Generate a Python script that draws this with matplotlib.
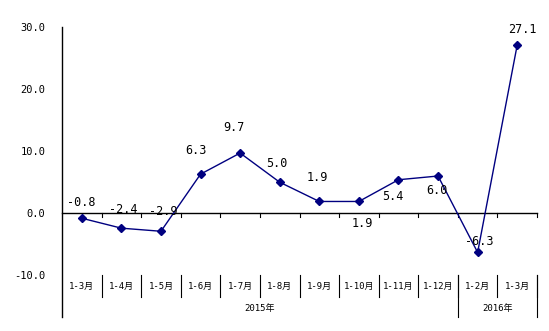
import matplotlib
matplotlib.use('Agg')
import matplotlib.pyplot as plt

plt.rcParams['font.family'] = ['DejaVu Sans Mono', 'Noto Sans CJK SC']

months = ['1-3月', '1-4月', '1-5月', '1-6月', '1-7月', '1-8月', '1-9月',
          '1-10月', '1-11月', '1-12月', '1-2月', '1-3月']
values = [-0.8, -2.4, -2.9, 6.3, 9.7, 5.0, 1.9, 1.9, 5.4, 6.0, -6.3, 27.1]
years = ['2015年', '2016年']
year_counts = [10, 2]
yticks = [-10, 0, 10, 20, 30]

# label offsets in pixels (dx, dy) for each point
offsets = [(-1, 16), (2, 19), (2, 20), (-5, 24), (-6, 26), (-3, 19),
           (-2, 24), (3, -22), (-6, -17), (-1, -14), (2, 11), (5, 16)]

W, H = 549, 331
fig = plt.figure(figsize=(W / 100, H / 100), dpi=100)
left, right, top, bottom = 62, 537, 27, 317
ax = fig.add_axes([left / W, (H - bottom) / H, (right - left) / W, (bottom - top) / H])

px = 62.25 / 10  # pixels per unit
ymin = -(bottom - 213) / px
ax.set_ylim(ymin, 30)
ax.set_xlim(0, len(months))

for s in ['top', 'right', 'bottom']:
    ax.spines[s].set_visible(False)
ax.spines['left'].set_linewidth(1)
ax.set_xticks([])
ax.set_yticks(yticks)
ax.set_yticklabels(['%.1f' % v for v in yticks], fontsize=7.5)
ax.tick_params(axis='y', length=0, pad=12)

n = len(months)
xs = [i + 0.5 for i in range(n)]

# zero line with ticks
ax.plot([0, n], [0, 0], color='black', lw=1, clip_on=False)
for i in range(1, n + 1):
    ax.plot([i, i], [0, -4 / px], color='black', lw=0.8, clip_on=False)

ax.plot(xs, values, color='#000080', lw=1, marker='D', markersize=4,
        markerfacecolor='#000080', clip_on=False, zorder=3)

for x, v, (dx, dy) in zip(xs, values, offsets):
    ax.annotate('%.1f' % v, (x, v), xytext=(dx * 0.72, dy * 0.72),
                textcoords='offset points', ha='center', va='center', fontsize=8.5)

# category table
row_top = -(275 - 213) / px
row_mid = -(297 - 213) / px
for i in range(1, n + 1):
    ax.plot([i, i], [row_top, row_mid], color='black', lw=0.8, clip_on=False)
for i, m in enumerate(months):
    ax.text(i + 0.5, (row_top + row_mid) / 2, m, ha='center', va='center', fontsize=6.5)

pos = 0
for y, c in zip(years, year_counts):
    ax.plot([pos + c, pos + c], [row_top, ymin], color='black', lw=0.8, clip_on=False)
    ax.text(pos + c / 2, (row_mid + ymin) / 2 - 0.3, y, ha='center', va='center', fontsize=6.5)
    pos += c

fig.savefig('out.png', dpi=100)
